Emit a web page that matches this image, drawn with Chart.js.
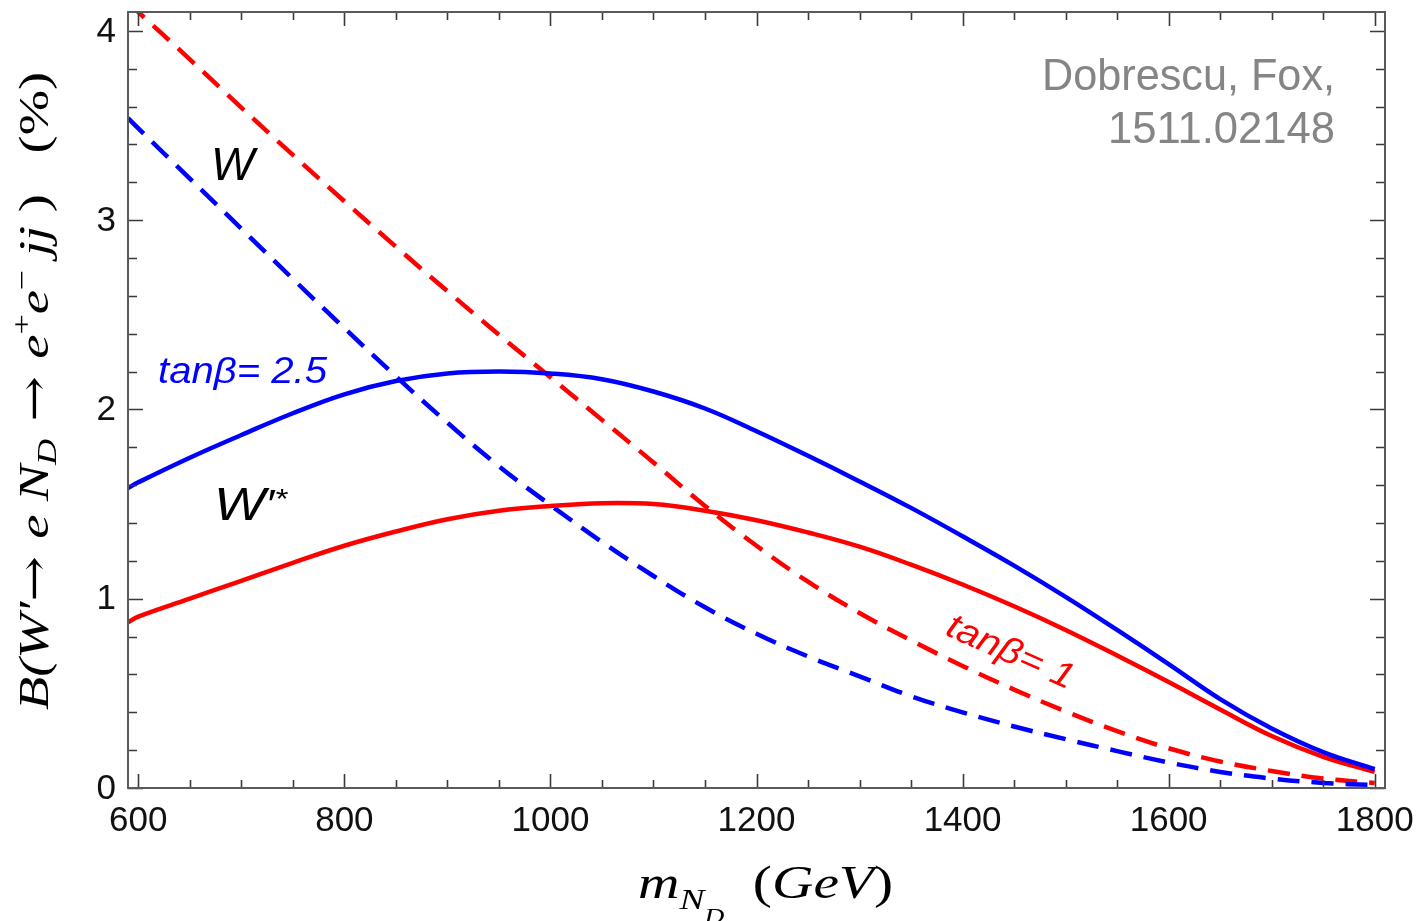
<!DOCTYPE html>
<html>
<head>
<meta charset="utf-8">
<title>B(W' -> e N_D -> e+e- jj)</title>
<script src="https://cdn.jsdelivr.net/npm/chart.js@4.4.0/dist/chart.umd.min.js"></script>
<style>
    html, body { margin: 0; padding: 0; background: #fff; }
    #wrap { width: 1420px; height: 921px; }
</style>
</head>
<body>
<div id="wrap"><canvas id="brChart" width="1420" height="921"></canvas></div>
<script>
// Heavy neutrino mass (GeV)
const massGeV = [590, 600, 650, 700, 750, 800, 850, 900, 950, 1000, 1050, 1100, 1150,
                 1200, 1250, 1300, 1350, 1400, 1450, 1500, 1550, 1600, 1650, 1700, 1750, 1800];

// Branching fraction (%) - W'* exchange (solid)
const wStarTan25 = [1.585, 1.615, 1.745, 1.865, 1.98, 2.08, 2.15, 2.19, 2.20, 2.19, 2.16, 2.095, 2.005,
                    1.885, 1.755, 1.62, 1.48, 1.33, 1.175, 1.01, 0.835, 0.655, 0.47, 0.315, 0.19, 0.10];
const wStarTan1  = [0.875, 0.905, 1.0, 1.095, 1.19, 1.28, 1.355, 1.42, 1.465, 1.49, 1.505, 1.50, 1.465,
                    1.415, 1.35, 1.275, 1.18, 1.075, 0.96, 0.835, 0.70, 0.56, 0.415, 0.275, 0.165, 0.085];

// Branching fraction (%) - W exchange (dashed)
const wTan25 = [3.54, 3.485, 3.22, 2.955, 2.69, 2.43, 2.175, 1.93, 1.70, 1.495, 1.30, 1.12, 0.955,
                0.815, 0.695, 0.59, 0.485, 0.40, 0.325, 0.258, 0.195, 0.135, 0.085, 0.05, 0.027, 0.015];
const wTan1  = [4.15, 4.10, 3.85, 3.595, 3.345, 3.10, 2.86, 2.625, 2.395, 2.17, 1.945, 1.72, 1.49,
                1.28, 1.09, 0.925, 0.78, 0.645, 0.52, 0.405, 0.30, 0.21, 0.14, 0.09, 0.05, 0.026];

const xTickLabels = [600, 800, 1000, 1200, 1400, 1600, 1800];
const yTickLabels = [0, 1, 2, 3, 4];

const SERIF = '"Liberation Serif", "DejaVu Serif", serif';
const SANS = '"Liberation Sans", Arial, sans-serif';

function toPoints(ys) {
    return massGeV.map((m, i) => ({ x: m, y: ys[i] }));
}

// draw a list of text runs one after another, squeezed/stretched to a given width
function drawRuns(ctx, runs, x, y, opts) {
    opts = opts || {};
    let total = 0;
    runs.forEach(r => {
        ctx.font = r.font;
        r.w = ctx.measureText(r.t).width;
        total += r.w;
    });
    const sx = opts.width ? opts.width / total : 1;
    ctx.save();
    ctx.translate(x, y);
    if (opts.angle) ctx.rotate(opts.angle);
    ctx.scale(sx, 1);
    ctx.fillStyle = opts.color || '#000';
    ctx.textAlign = 'left';
    ctx.textBaseline = 'alphabetic';
    let cx = 0;
    if (opts.align === 'center') cx = -total / 2;
    if (opts.align === 'right') cx = -total;
    runs.forEach(r => {
        ctx.font = r.font;
        ctx.fillText(r.t, cx, r.dy || 0);
        cx += r.w;
    });
    ctx.restore();
}

const framePlugin = {
    id: 'framePlugin',
    afterDraw(chart) {
        const { ctx, chartArea: a, scales: { x, y } } = chart;
        ctx.save();

        // ticks on all four sides, pointing inwards
        ctx.strokeStyle = '#3a3a3a';
        ctx.lineWidth = 1.6;
        ctx.beginPath();
        for (let v = 600; v <= 1800; v += 50) {
            const px = Math.round(x.getPixelForValue(v)) + 0.5;
            const len = v % 200 === 0 ? 14 : 8;
            ctx.moveTo(px, a.bottom); ctx.lineTo(px, a.bottom - len);
            ctx.moveTo(px, a.top); ctx.lineTo(px, a.top + len);
        }
        for (let k = 0; k <= 20; k++) {
            const v = k * 0.2;
            const py = Math.round(y.getPixelForValue(v)) + 0.5;
            const len = k % 5 === 0 ? 15 : 9;
            ctx.moveTo(a.left, py); ctx.lineTo(a.left + len, py);
            ctx.moveTo(a.right, py); ctx.lineTo(a.right - len, py);
        }
        ctx.stroke();

        // frame
        ctx.strokeStyle = '#5a5a5a';
        ctx.lineWidth = 2;
        ctx.strokeRect(a.left, a.top, a.right - a.left, a.bottom - a.top);

        // tick labels
        ctx.fillStyle = '#111';
        ctx.font = '35px ' + SANS;
        ctx.textAlign = 'center';
        ctx.textBaseline = 'middle';
        xTickLabels.forEach(v => ctx.fillText(String(v), x.getPixelForValue(v), 821));
        ctx.textAlign = 'right';
        yTickLabels.forEach(v => ctx.fillText(String(v), 116, y.getPixelForValue(v) + 1));

        // x axis title: m_{N_D}  (GeV)
        drawRuns(ctx, [
            { t: 'm', font: 'italic 46px ' + SERIF },
            { t: 'N', font: 'italic 30px ' + SERIF, dy: 11 },
            { t: 'D', font: 'italic 22px ' + SERIF, dy: 25 },
            { t: '  (', font: '46px ' + SERIF },
            { t: 'GeV', font: 'italic 46px ' + SERIF },
            { t: ')', font: '46px ' + SERIF }
        ], 638, 898, { width: 255 });

        // y axis title: B(W' -> e N_D -> e+ e- jj )  (%)
        drawRuns(ctx, [
            { t: 'B(W\u2032', font: 'italic 42px ' + SERIF },
            { t: '\u2192 ', font: '42px "DejaVu Serif", serif' },
            { t: 'e N', font: 'italic 42px ' + SERIF },
            { t: 'D', font: 'italic 28px ' + SERIF, dy: 8 },
            { t: ' \u2192 ', font: '42px "DejaVu Serif", serif' },
            { t: 'e', font: 'italic 42px ' + SERIF },
            { t: '+', font: '28px ' + SERIF, dy: -17 },
            { t: 'e', font: 'italic 42px ' + SERIF },
            { t: '\u2212', font: '28px ' + SERIF, dy: -17 },
            { t: ' jj', font: 'italic 42px ' + SERIF },
            { t: ' )', font: '42px ' + SERIF },
            { t: '   (%)', font: '42px ' + SERIF }
        ], 48, 710, { width: 638, angle: -Math.PI / 2 });

        // curve labels
        drawRuns(ctx, [{ t: 'W', font: 'italic 46px ' + SANS }], 211, 180, {});
        drawRuns(ctx, [
            { t: 'W', font: 'italic 46px ' + SANS },
            { t: '\u2032', font: 'italic 40px ' + SANS, dy: -2 },
            { t: '*', font: 'italic 28px ' + SANS, dy: -12 }
        ], 214, 520, { width: 73 });
        drawRuns(ctx, [{ t: 'tan\u03b2= 2.5', font: 'italic 36px ' + SANS }],
            158, 383, { width: 169, color: '#0000ff' });
        drawRuns(ctx, [{ t: 'tan\u03b2= 1', font: 'italic 36px ' + SANS }],
            1006, 662, { width: 136, color: '#ff0000', angle: 24 * Math.PI / 180, align: 'center' });

        // reference
        drawRuns(ctx, [{ t: 'Dobrescu, Fox,', font: '44px ' + SANS }],
            1335, 90, { width: 293, color: '#858585', align: 'right' });
        drawRuns(ctx, [{ t: '1511.02148', font: '44px ' + SANS }],
            1335, 143, { width: 227, color: '#858585', align: 'right' });

        ctx.restore();
    }
};

const ctx = document.getElementById('brChart').getContext('2d');

const lineStyle = {
    borderWidth: 4.5,
    pointRadius: 0,
    tension: 0.4,
    fill: false,
    clip: 0
};

new Chart(ctx, {
    type: 'line',
    data: {
        datasets: [
            Object.assign({ label: "W'* tan\u03b2=2.5", data: toPoints(wStarTan25), borderColor: '#0000ff' }, lineStyle),
            Object.assign({ label: "W'* tan\u03b2=1", data: toPoints(wStarTan1), borderColor: '#ff0000' }, lineStyle),
            Object.assign({ label: 'W tan\u03b2=2.5', data: toPoints(wTan25), borderColor: '#0000ff', borderDash: [22, 12] }, lineStyle),
            Object.assign({ label: 'W tan\u03b2=1', data: toPoints(wTan1), borderColor: '#ff0000', borderDash: [22, 12] }, lineStyle)
        ]
    },
    options: {
        responsive: false,
        animation: false,
        events: [],
        layout: {
            padding: { left: 128, right: 35, top: 12, bottom: 133 }
        },
        scales: {
            x: { type: 'linear', min: 590, max: 1810, display: false },
            y: { type: 'linear', min: 0, max: 4.1, display: false }
        },
        plugins: {
            legend: { display: false },
            tooltip: { enabled: false }
        }
    },
    plugins: [framePlugin]
});
</script>
</body>
</html>
